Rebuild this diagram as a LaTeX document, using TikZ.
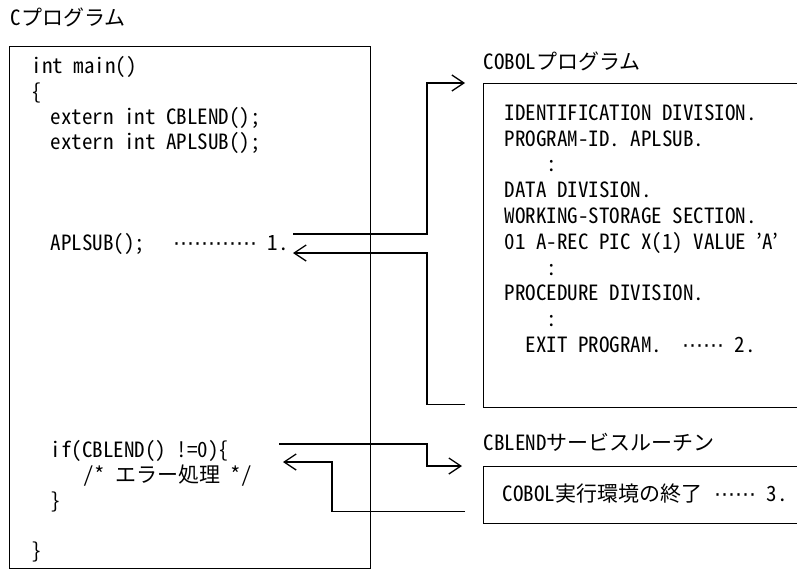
\documentclass[tikz,border=0pt]{standalone}
\usepackage{fontspec}
\usepackage{tikz}
\usetikzlibrary{positioning,arrows.meta,calc}
\setmainfont{Noto Sans CJK JP}[RawFeature={+hwid}]
\newfontfamily\dotsfont{DejaVu Sans}
\newcommand*\leaderdots[1]{{\dotsfont #1}}

\begin{document}
\begin{tikzpicture}[x=1pt, y=-1pt, line width=1.3pt,
    codebox/.style={draw, anchor=north west, inner sep=0pt},
    code/.style={anchor=base west, inner sep=0pt, font=\fontsize{21}{24}\selectfont},
    arr/.style={-{Straight Barb[length=12pt, width=16pt, line width=1.3pt]}}]
  \useasboundingbox (0,0) rectangle (797,570);
  \clip (0,0) rectangle (797,570);

  % boxes
  \node[codebox, minimum width=361pt, minimum height=522pt] (cprog) at (9,46) {};
  \node[codebox, minimum width=340pt, minimum height=324pt] (cobol) at (483,83) {};
  \node[codebox, minimum width=340pt, minimum height=57pt] (cblend) at (483,466) {};

  % titles
  \node[code] (ctitle) at (10,25) {Cプログラム};
  \node[code] (cobtitle) at (483,69) {COBOLプログラム};
  \node[code] (cbltitle) at (483,450) {CBLENDサービスルーチン};

  % C program
  \node[code] (c1) at (31,73) {int main()};
  \node[code] (c2) at (31,99) {\{};
  \node[code] (c3) at (50,124) {extern int CBLEND();};
  \node[code] (c4) at (50,149) {extern int APLSUB();};
  \node[code] (call1) at (50,250) {APLSUB();\hspace{28pt}\leaderdots{⋯⋯⋯⋯} 1.};
  \node[code] (call3) at (50,457) {if(CBLEND() !=0)\{};
  \node[code] (c7) at (83,482) {/* エラー処理 */};
  \node[code] (c8) at (50,508) {\}};
  \node[code] (c9) at (31,558) {\}};

  % COBOL program
  \node[code] (d1) at (504,120) {IDENTIFICATION DIVISION.};
  \node[code] (d2) at (504,146) {PROGRAM-ID. APLSUB.};
  \node[code] (d3) at (546,171) {:};
  \node[code] (d4) at (504,197) {DATA DIVISION.};
  \node[code] (d5) at (504,223) {WORKING-STORAGE SECTION.};
  \node[code] (d6) at (504,249) {01 A-REC PIC X(1) VALUE 'A'};
  \node[code] (d7) at (546,275) {:};
  \node[code] (d8) at (504,300) {PROCEDURE DIVISION.};
  \node[code] (d9) at (546,326) {:};
  \node[code] (exit2) at (525,352) {EXIT PROGRAM.\hspace{20pt}\leaderdots{⋯⋯} 2.};

  % service routine
  \node[code] (term3) at (502,501) {COBOL実行環境の終了\hspace{12pt}\leaderdots{⋯⋯} 3.};

  % connector ends
  \coordinate (out1) at (293,234);
  \coordinate (in1) at (293,253);
  \coordinate (out3) at (279,444);
  \coordinate (in3) at (283,462);
  \coordinate (tip1) at ($(cobol.north west)+(-18,0)$);
  \coordinate (ret1) at ($(cobol.south west)+(-18,-4)$);
  \coordinate (tip3) at ($(cblend.north west)+(-21,0)$);
  \coordinate (ret3) at ($(cblend.south west)+(-18,-13)$);

  \draw[arr] (out1) -- ++(134,0) |- (tip1);
  \draw[arr] (ret1) -- ++(-38,0) |- (in1);
  \draw[arr] (out3) -- ++(148,0) |- (tip3);
  \draw[arr] (ret3) -- ++(-133,0) |- (in3);
\end{tikzpicture}
\end{document}
